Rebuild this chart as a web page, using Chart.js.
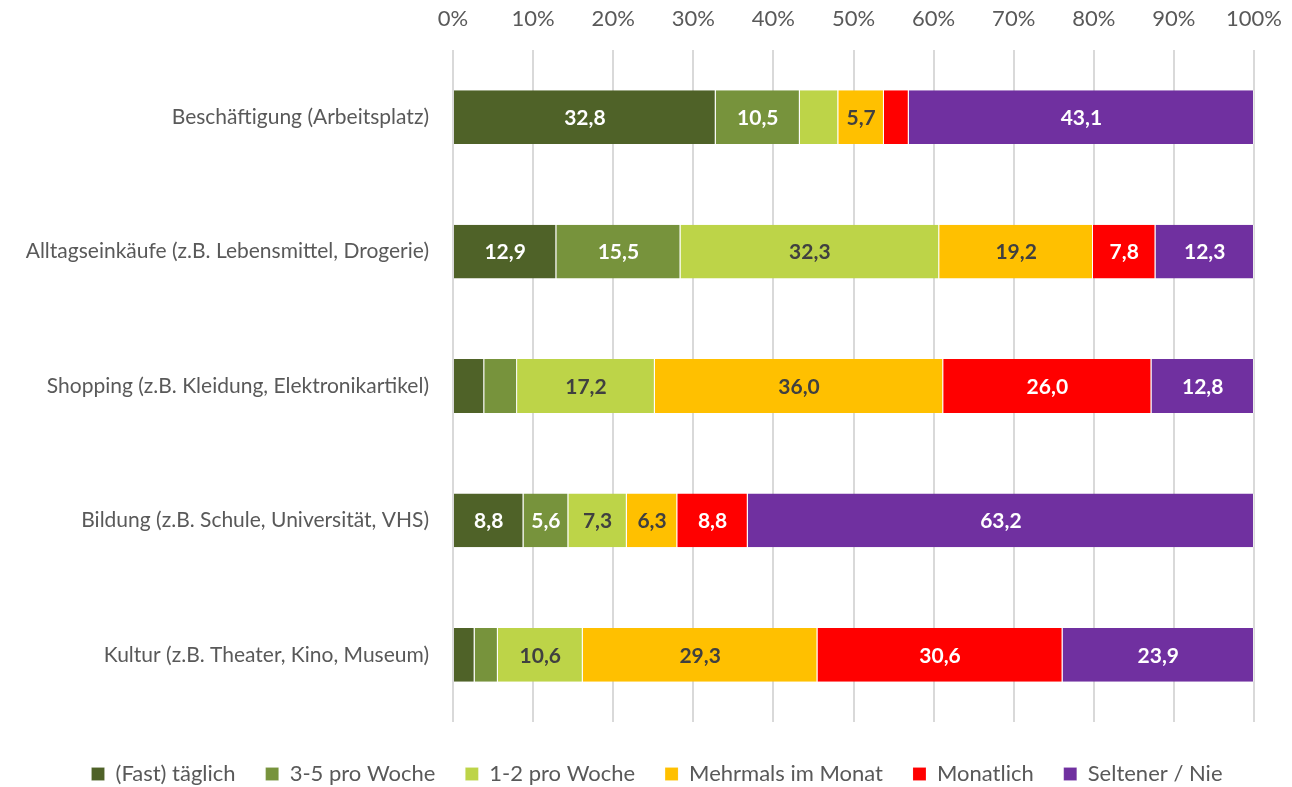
<!DOCTYPE html>
<html>
<head>
<meta charset="utf-8">
<script src="https://cdn.jsdelivr.net/npm/chart.js@4/dist/chart.umd.min.js"></script>
<style>
  html, body { margin: 0; padding: 0; background: #fff; }
  #wrap { width: 1292px; height: 787px; position: relative; }
</style>
</head>
<body>
<div id="wrap"><canvas id="chart"></canvas></div>
<script>
const categories = [
  "Beschäftigung (Arbeitsplatz)",
  "Alltagseinkäufe (z.B. Lebensmittel, Drogerie)",
  "Shopping (z.B. Kleidung, Elektronikartikel)",
  "Bildung (z.B. Schule, Universität, VHS)",
  "Kultur (z.B. Theater, Kino, Museum)"
];
const seriesNames = ["(Fast) täglich", "3-5 pro Woche", "1-2 pro Woche", "Mehrmals im Monat", "Monatlich", "Seltener / Nie"];

const fastTaeglich = [32.8, 12.9, 3.9, 8.8, 2.7];
const dreiBisFuenf = [10.5, 15.5, 4.1, 5.6, 2.9];
const einsBisZwei  = [4.8, 32.3, 17.2, 7.3, 10.6];
const mehrmals     = [5.7, 19.2, 36.0, 6.3, 29.3];
const monatlich    = [3.1, 7.8, 26.0, 8.8, 30.6];
const selten       = [43.1, 12.3, 12.8, 63.2, 23.9];

const colors = ["#4F6228", "#77933C", "#BDD448", "#FFC000", "#FF0000", "#7030A0"];
const labelColors = ["#ffffff", "#ffffff", "#404040", "#404040", "#ffffff", "#ffffff"];
const FONT = "Lato";

// values below this are not labelled (same as original)
const minLabel = 5;

const segmentLabels = {
  id: "segmentLabels",
  afterDatasetsDraw(chart) {
    const ctx = chart.ctx;
    ctx.save();
    ctx.font = "bold 21px " + FONT;
    ctx.textAlign = "center";
    ctx.textBaseline = "middle";
    chart.data.datasets.forEach((ds, i) => {
      chart.getDatasetMeta(i).data.forEach((bar, j) => {
        const v = ds.data[j];
        if (v < minLabel) return;
        const p = bar.getProps(["x", "y", "base"], true);
        ctx.fillStyle = labelColors[i];
        ctx.fillText(v.toFixed(1).replace(".", ","), (p.x + p.base) / 2, p.y + 1);
      });
    });
    ctx.restore();
  }
};

// keep the wide gaps between legend items but a lower legend box,
// and nudge it to where the original has it
const legendPlace = {
  id: "legendPlace",
  afterInit(chart) {
    const lg = chart.legend;
    const fit = lg.fit.bind(lg);
    lg.fit = function () {
      fit();
      this.height = 65;
    };
  },
  afterLayout(chart) {
    const lg = chart.legend;
    lg.top += 11;
    lg.bottom += 11;
    lg.left += 30;
    lg.right += 30;
  }
};

const allSeries = [fastTaeglich, dreiBisFuenf, einsBisZwei, mehrmals, monatlich, selten];

new Chart(document.getElementById("chart"), {
  type: "bar",
  data: {
    labels: categories,
    datasets: allSeries.map((d, i) => ({
      label: seriesNames[i],
      data: d,
      backgroundColor: colors[i],
      borderColor: "rgba(255,255,255,0.5)",
      borderWidth: { left: 0, right: 1, top: 0, bottom: 0 },
      borderSkipped: false,
      barPercentage: 0.4,
      categoryPercentage: 1
    }))
  },
  options: {
    indexAxis: "y",
    responsive: true,
    maintainAspectRatio: false,
    animation: false,
    layout: { padding: { top: 0, right: 38, bottom: 0, left: 0 } },
    scales: {
      x: {
        position: "top",
        stacked: true,
        min: 0,
        max: 100,
        afterFit(scale) {
          scale.height = 50;
          scale.paddingLeft = 0;
          scale.paddingRight = 0;
        },
        grid: { color: "#D9D9D9", lineWidth: 2, drawTicks: false },
        border: { display: false },
        ticks: {
          stepSize: 10,
          padding: 18,
          color: "#595959",
          font: { family: FONT, size: 22 },
          callback: v => v + "%"
        }
      },
      y: {
        stacked: true,
        afterFit(scale) { scale.width = 453; },
        grid: { display: false },
        border: { display: false },
        ticks: {
          padding: 16,
          color: "#595959",
          font: { family: FONT, size: 21 }
        }
      }
    },
    plugins: {
      legend: {
        position: "bottom",
        labels: {
          boxWidth: 13,
          boxHeight: 13,
          padding: 30,
          color: "#595959",
          font: { family: FONT, size: 22 }
        }
      },
      tooltip: { enabled: false }
    }
  },
  plugins: [segmentLabels, legendPlace]
});
</script>
</body>
</html>
